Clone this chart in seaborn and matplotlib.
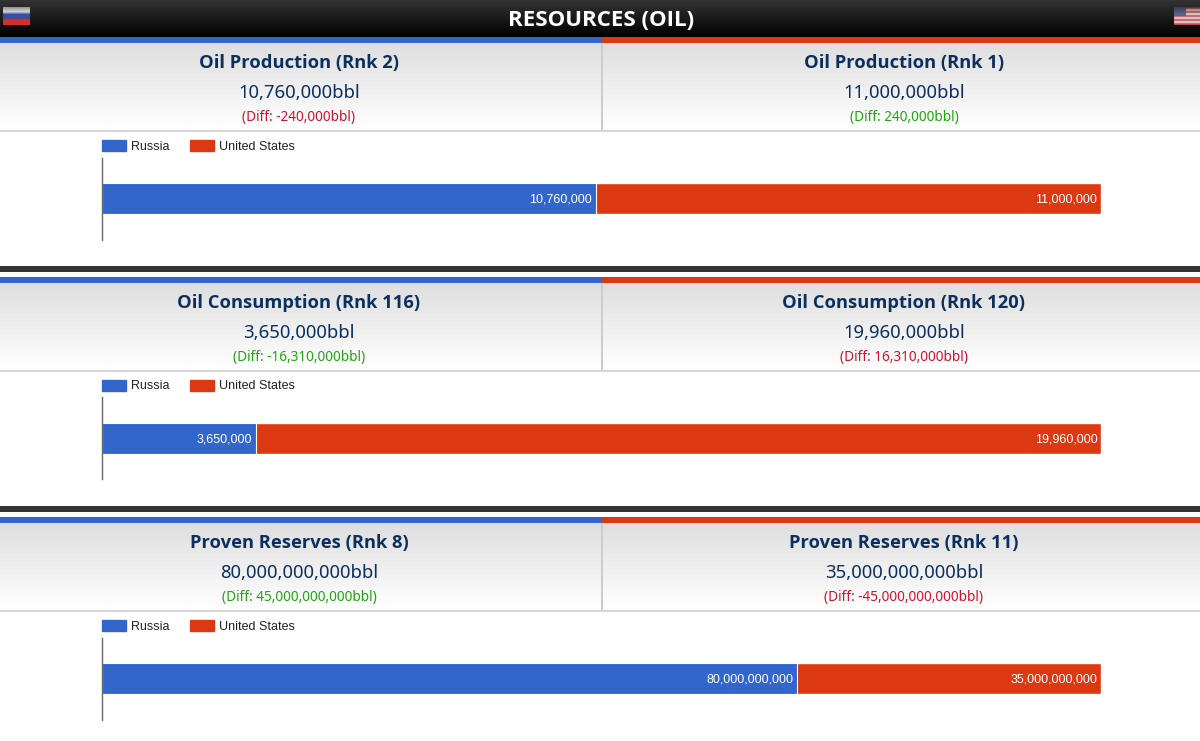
import numpy as np
import matplotlib.pyplot as plt
from matplotlib.colors import to_rgb
from matplotlib.patches import Patch, Rectangle
import seaborn as sns
import pandas as pd

countries = ['Russia', 'United States']
metrics = ['Oil Production', 'Oil Consumption', 'Proven Reserves']
russia_rank = [2, 116, 8]
us_rank = [1, 120, 11]
russia_vals = [10760000, 3650000, 80000000000]
us_vals = [11000000, 19960000, 35000000000]
russia_diff_good = [False, True, True]

BLUE = '#3366cc'
RED = '#dc3912'
GOOD = '#1fa50f'
BAD = '#d1122c'
NAVY = '#0b2f5e'
UI_FONT = 'Noto Sans'
BOLD_FONT = 'Open Sans'
W, H = 1200, 741

sns.set_theme(style='white')
plt.rcParams['font.family'] = ['Liberation Sans', 'DejaVu Sans']

fig = plt.figure(figsize=(12, 7.41), dpi=100)
page = fig.add_axes([0, 0, 1, 1])
page.set_xlim(0, W)
page.set_ylim(H, 0)
page.autoscale(False)
page.axis('off')


def vgrad(x0, x1, y0, y1, c0, c1):
    g = np.linspace(0, 1, 64)[:, None, None]
    img = np.array(to_rgb(c0)) * (1 - g) + np.array(to_rgb(c1)) * g
    page.imshow(img, extent=[x0, x1, y1, y0], aspect='auto', zorder=1)


def flag(x0, y0, stripes, canton=None):
    img = np.array([to_rgb(c) for c in stripes])[:, None, :]
    page.imshow(img, extent=[x0, x0 + 27, y0 + 18, y0], aspect='auto', zorder=3, interpolation='bilinear')
    if canton:
        page.add_patch(Rectangle((x0, y0), 12, 9, color=canton, zorder=4, lw=0))
    # dull the top edge, the flags look shaded in the reference
    shade = np.zeros((32, 1, 4))
    shade[:, 0, 3] = np.linspace(0.4, 0, 32)
    page.imshow(shade, extent=[x0, x0 + 27, y0 + 7, y0], aspect='auto', zorder=5)


# header
vgrad(0, W, 0, 38, '#333333', '#000000')
page.text(601, 20, 'RESOURCES (OIL)', color='white', ha='center', va='center',
          fontsize=16, fontweight='bold', family=BOLD_FONT, zorder=6)
flag(3, 7, ['#f2f2f2', '#f2f2f2', '#2f4fa8', '#2f4fa8', '#d0302c', '#d0302c'])
flag(1174, 7, ['#b8454f', '#e6e6e6'] * 4 + ['#b8454f'], canton='#5a6390')

for i, metric in enumerate(metrics):
    off = 240 * i
    r, u = russia_vals[i], us_vals[i]

    # panel header
    page.add_patch(Rectangle((0, 37.4 + off), 601, 5.3, color=BLUE, lw=0, zorder=2))
    page.add_patch(Rectangle((601, 37.4 + off), 599, 5.3, color=RED, lw=0, zorder=2))
    vgrad(0, W, 42.7 + off, 130 + off, '#dedede', '#ffffff')
    page.add_patch(Rectangle((0, 130 + off), W, 2, color='#d4d4d4', lw=0, zorder=2))
    page.add_patch(Rectangle((601, 42.7 + off), 1.5, 87.3, color='#cccccc', lw=0, zorder=2))
    if i < 2:
        page.add_patch(Rectangle((0, 266 + off), W, 6, color='#333333', lw=0, zorder=2))

    sides = [(299, russia_rank[i], r, r - u, russia_diff_good[i]),
             (904, us_rank[i], u, u - r, not russia_diff_good[i])]
    for cx, rank, val, diff, good in sides:
        page.text(cx, 63 + off, f'{metric} (Rnk {rank})', ha='center', va='center', color=NAVY,
                  fontsize=13.2, fontweight='bold', family=BOLD_FONT, zorder=6)
        page.text(cx, 93 + off, f'{val:,}bbl', ha='center', va='center', color=NAVY,
                  fontsize=13.3, family=UI_FONT, zorder=6)
        page.text(cx, 118 + off, f'(Diff: {diff:,}bbl)', ha='center', va='center',
                  color=GOOD if good else BAD, fontsize=9.8, family=UI_FONT, zorder=6)

    # stacked 100% bar
    ax = fig.add_axes([101.5 / W, 1 - (239.5 + off) / H, 999.5 / W, 82 / H])
    ax.patch.set_alpha(0)
    total = r + u
    df = pd.DataFrame({'row': [metric], 'whole': [1.0], 'share': [r / total]})
    sns.barplot(data=df, x='whole', y='row', color=RED, saturation=1, width=0.366, ax=ax)
    sns.barplot(data=df, x='share', y='row', color=BLUE, saturation=1, width=0.366,
                edgecolor='white', linewidth=0.8, ax=ax)
    ax.set_xlim(0, 1)
    ax.set_xlabel('')
    ax.set_ylabel('')
    ax.set_xticks([])
    ax.set_yticks([])
    for s in ['top', 'right', 'bottom']:
        ax.spines[s].set_visible(False)
    ax.spines['left'].set_color('#666666')
    ax.spines['left'].set_linewidth(1)
    for cont, val in zip(ax.containers, [u, r]):
        for t in ax.bar_label(cont, labels=[f'{val:,}'], padding=-2.6, color='white', fontsize=9):
            t.set_ha('right')
            t.xyann = (t.xyann[0], -0.7)
    handles = [Patch(color=BLUE, label=countries[0]), Patch(color=RED, label=countries[1])]
    ax.legend(handles=handles, loc='lower left', bbox_to_anchor=(0, 87 / 82), ncol=2, frameon=False,
              fontsize=9, labelcolor='#222222', borderpad=0, borderaxespad=0, handlelength=1.92,
              handleheight=0.95, handletextpad=0.42, columnspacing=1.62)

fig.savefig('out.png', dpi=100)
